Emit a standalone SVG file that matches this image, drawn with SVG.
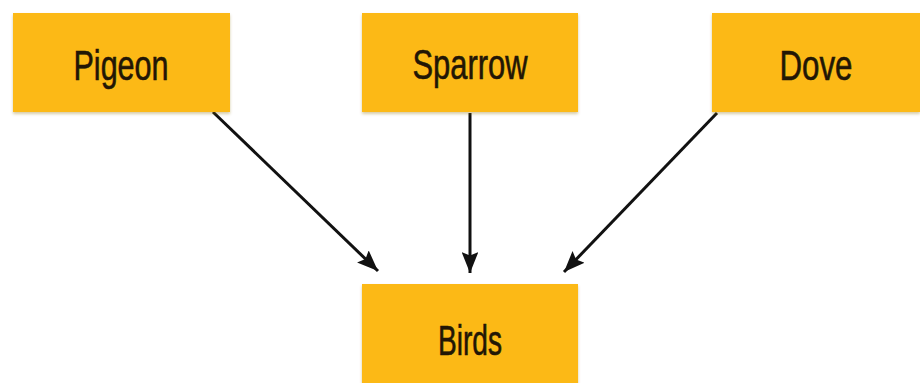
<svg xmlns="http://www.w3.org/2000/svg" width="920" height="383" viewBox="0 0 920 383">
  <defs>
    <marker id="ah" markerWidth="7" markerHeight="5.6" refX="7" refY="2.8" orient="auto" markerUnits="strokeWidth">
      <path d="M0,0 L7,2.8 L0,5.6 L1.2,2.8 Z" fill="#111"/>
    </marker>
    <filter id="sh" x="-5%" y="-5%" width="110%" height="120%">
      <feDropShadow dx="0" dy="2" stdDeviation="1.5" flood-color="#8a6a00" flood-opacity="0.35"/>
    </filter>
  </defs>
  <style>
    .box { fill: #FCB912; filter: url(#sh); }
    .lbl { font-family: "Liberation Sans", Arial, sans-serif; font-size: 42px; fill: #221605; stroke: #221605; stroke-width: 0.6; text-anchor: middle; }
    .edge { stroke: #111; stroke-width: 3; fill: none; marker-end: url(#ah); }
  </style>
  <rect width="920" height="383" fill="#ffffff"/>
  <g id="connectors">
    <line class="edge" x1="213" y1="112" x2="378" y2="271"/>
    <line class="edge" x1="470" y1="113" x2="470" y2="273"/>
    <line class="edge" x1="717" y1="113" x2="564" y2="272"/>
  </g>
  <g id="pigeon">
    <rect class="box" x="13" y="13" width="217" height="99"/>
    <text class="lbl" x="121" y="80" textLength="95" lengthAdjust="spacingAndGlyphs">Pigeon</text>
  </g>
  <g id="sparrow">
    <rect class="box" x="362" y="13" width="216" height="99"/>
    <text class="lbl" x="470" y="79" textLength="115" lengthAdjust="spacingAndGlyphs">Sparrow</text>
  </g>
  <g id="dove">
    <rect class="box" x="712" y="13" width="208" height="99"/>
    <text class="lbl" x="816" y="80" textLength="73" lengthAdjust="spacingAndGlyphs">Dove</text>
  </g>
  <g id="birds">
    <rect class="box" x="362" y="284" width="216" height="102"/>
    <text class="lbl" x="470" y="355" textLength="64" lengthAdjust="spacingAndGlyphs">Birds</text>
  </g>
</svg>
